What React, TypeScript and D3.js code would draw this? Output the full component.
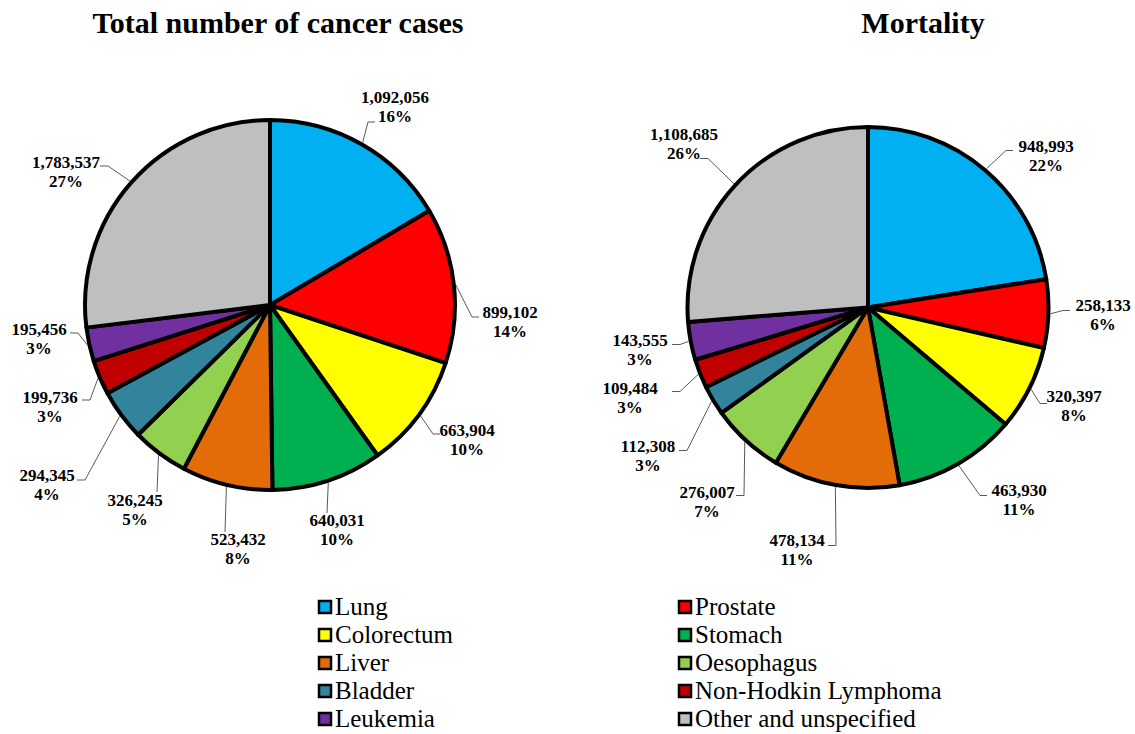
import * as d3 from "d3";

// categories in slice order (clockwise from 12 o'clock)
const categories = [
  "Lung",
  "Prostate",
  "Colorectum",
  "Stomach",
  "Liver",
  "Oesophagus",
  "Bladder",
  "Non-Hodkin Lymphoma",
  "Leukemia",
  "Other and unspecified",
];
const colors = [
  "#00B0F0",
  "#FF0000",
  "#FFFF00",
  "#00B050",
  "#E36C09",
  "#92D050",
  "#31849B",
  "#C00000",
  "#7030A0",
  "#BFBFBF",
];

const casesValues = [1092056, 899102, 663904, 640031, 523432, 326245, 294345, 199736, 195456, 1783537];
const casesPercent = ["16%", "14%", "10%", "10%", "8%", "5%", "4%", "3%", "3%", "27%"];

const deathValues = [948993, 258133, 320397, 463930, 478134, 276007, 112308, 109484, 143555, 1108685];
const deathPercent = ["22%", "6%", "8%", "11%", "11%", "7%", "3%", "3%", "3%", "26%"];

// label placement, offsets from pie centre: text centre (tx, ty), leader elbow (ex, ey), stub side
type Lab = [number, number, number, number, string];
const casesLabels: Lab[] = [
  [125, -208, 98, -183, "r"],
  [240, 7, 202, 12, "r"],
  [197, 125, 163, 129, "r"],
  [67, 215, 57, 208, "n"],
  [-32, 234, -45, 227, "n"],
  [-135, 195, -113, 187, "n"],
  [-223, 170, -185, 175, "l"],
  [-220, 92, -180, 95, "l"],
  [-231, 24, -192, 28, "l"],
  [-204, -143, -162, -139, "l"],
];
const deathLabels: Lab[] = [
  [178, -162, 138, -157, "r"],
  [235, -3, 195, 3, "r"],
  [206, 88, 172, 96, "r"],
  [151, 182, 112, 188, "r"],
  [-71, 232, -32, 238, "l"],
  [-161, 184, -124, 188, "l"],
  [-220, 138, -181, 143, "l"],
  [-238, 80, -188, 84, "l"],
  [-228, 32, -188, 37, "l"],
  [-184, -174, -160, -149, "l"],
];

const fmt = d3.format(",");
const font = "'Liberation Serif', 'Times New Roman', serif";

function Pie({ values, pct, labels, cx, cy, r }: { values: number[]; pct: string[]; labels: Lab[]; cx: number; cy: number; r: number }) {
  const arcs = d3.pie<number>().sort(null).value((d) => d)(values);
  const arc = d3.arc<d3.PieArcDatum<number>>().innerRadius(0).outerRadius(r);
  return (
    <g transform={`translate(${cx},${cy})`}>
      {arcs.map((a, i) => (
        <path key={i} d={arc(a) || ""} fill={colors[i]} stroke="#000" strokeWidth={4} strokeLinejoin="round" />
      ))}
      {arcs.map((a, i) => {
        const [tx, ty, ex, ey, side] = labels[i];
        const mid = (a.startAngle + a.endAngle) / 2;
        const sx = Math.sin(mid) * (r + 2);
        const sy = -Math.cos(mid) * (r + 2);
        let p = `M${sx},${sy}L${ex},${ey}`;
        if (side === "r") p += `L${ex + 7},${ey}`;
        if (side === "l") p += `L${ex - 8},${ey}`;
        return (
          <g key={"l" + i}>
            <path d={p} fill="none" stroke="#595959" strokeWidth={1} />
            <text x={tx} y={ty + 6} textAnchor="middle" fontFamily={font} fontWeight="bold" fontSize={17}>
              {fmt(values[i])}
            </text>
            <text x={tx} y={ty + 25} textAnchor="middle" fontFamily={font} fontWeight="bold" fontSize={17}>
              {pct[i]}
            </text>
          </g>
        );
      })}
    </g>
  );
}

export default function App() {
  return (
    <svg width={1135} height={734} style={{ position: "absolute", left: 0, top: 0 }}>
      <rect width={1135} height={734} fill="#fff" />
      <text x={278} y={33} textAnchor="middle" fontFamily={font} fontWeight="bold" fontSize={30}>
        Total number of cancer cases
      </text>
      <text x={923} y={33} textAnchor="middle" fontFamily={font} fontWeight="bold" fontSize={30}>
        Mortality
      </text>
      <Pie values={casesValues} pct={casesPercent} labels={casesLabels} cx={270} cy={305} r={185} />
      <Pie values={deathValues} pct={deathPercent} labels={deathLabels} cx={868} cy={307.5} r={180.5} />
      <g>
        {categories.map((c, i) => {
          const x = i % 2 === 0 ? 318 : 678;
          const y = 607 + Math.floor(i / 2) * 28;
          return (
            <g key={c}>
              <rect x={x + 1} y={y - 6} width={12} height={12} fill={colors[i]} stroke="#000" strokeWidth={2.5} />
              <text x={x + 17} y={y + 8} fontFamily={font} fontSize={25}>
                {c}
              </text>
            </g>
          );
        })}
      </g>
    </svg>
  );
}
